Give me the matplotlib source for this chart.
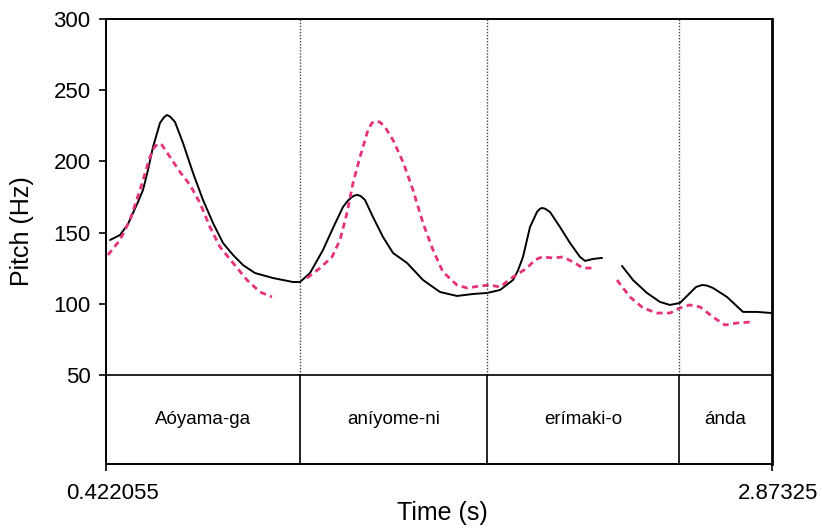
import matplotlib
matplotlib.use("Agg")
import matplotlib.pyplot as plt
import matplotlib.transforms as mtransforms

plt.rcParams['font.family'] = ['Liberation Sans', 'DejaVu Sans']

# Time axis range (s)
t_start = 0.422055
t_end = 2.87325

# Word boundaries (s) and labels
boundaries = [1.1361, 1.8243, 2.5309]
words = ["Aóyama-ga", "aníyome-ni", "erímaki-o", "ánda"]

# Black (solid) pitch contour, two voiced stretches
black1_t = [0.4368, 0.4736, 0.5030, 0.5214, 0.5398, 0.5582, 0.5766, 0.5950, 0.6208,
            0.6356, 0.6466, 0.6576, 0.6760, 0.7055,
            0.7423, 0.7791, 0.8159, 0.8527, 0.8895, 0.9263, 0.9704, 1.0367, 1.1103,
            1.1361, 1.1729, 1.2207, 1.2575, 1.2943, 1.3127, 1.3274, 1.3385, 1.3495,
            1.3606, 1.3753, 1.4048,
            1.4416, 1.4784, 1.5299, 1.5888, 1.6513, 1.7139, 1.7728, 1.8243, 1.8721,
            1.9200, 1.9384, 1.9568, 1.9826, 2.0083, 2.0193, 2.0267, 2.0378, 2.0562,
            2.0930, 2.1298, 2.1666,
            2.1850, 2.2144, 2.2476]
black1_hz = [144.8, 148.3, 156.0, 163.8, 171.5, 179.9, 194.0, 210.1, 227.0,
             231.0, 232.6, 231.5, 227.7, 212.9,
             191.9, 172.9, 156.7, 142.7, 134.3, 127.2, 121.6, 118.1, 115.3,
             115.3, 121.6, 137.8, 153.2, 168.0, 172.5, 175.0, 176.2, 176.4,
             175.5, 172.9, 160.9,
             146.9, 135.7, 128.7, 116.7, 108.3, 105.5, 106.9, 107.6, 109.7,
             116.7, 123.5, 132.9, 153.9, 164.5, 166.7, 167.3, 166.8, 164.5,
             153.9, 142.7, 132.9,
             130.1, 131.5, 132.2]
black2_t = [2.3212, 2.3616, 2.4132, 2.4610, 2.4978, 2.5346, 2.5714, 2.5935, 2.6156,
            2.6341, 2.6561, 2.7076, 2.7665, 2.8180, 2.8733]
black2_hz = [126.6, 116.7, 107.6, 101.3, 99.2, 100.6, 107.6, 111.8, 113.2,
             112.8, 111.1, 104.8, 94.3, 94.3, 93.5]

# Pink (dashed) pitch contour, three voiced stretches
pink1_t = [0.4294, 0.4736, 0.5104, 0.5472, 0.5840, 0.5987, 0.6098, 0.6208, 0.6282,
           0.6576, 0.6944,
           0.7312, 0.7680, 0.8048, 0.8416, 0.8895, 0.9410, 0.9888, 1.0330]
pink1_hz = [134.3, 144.8, 158.9, 179.9, 203.1, 209.5, 212.0, 212.5, 211.5,
            203.1, 192.6,
            183.4, 170.8, 153.9, 139.9, 128.7, 116.7, 108.3, 104.8]
pink2_t = [1.1618, 1.2097, 1.2539, 1.2833, 1.3091, 1.3311, 1.3569, 1.3864, 1.4011,
           1.4158, 1.4305,
           1.4489, 1.4784, 1.5152, 1.5520, 1.5888, 1.6255, 1.6624, 1.7139, 1.7507,
           1.7985, 1.8353, 1.8721, 1.9200, 1.9715, 2.0009, 2.0267, 2.0672, 2.1040,
           2.1408, 2.1776, 2.2218]
pink2_hz = [118.1, 125.1, 132.9, 144.8, 163.8, 184.8, 203.1, 222.1, 227.0,
            228.4, 227.5,
            224.2, 215.0, 199.6, 179.9, 156.7, 137.8, 122.3, 113.2, 111.1,
            112.5, 113.2, 111.8, 118.8, 125.1, 130.8, 132.9, 132.2, 132.9,
            129.4, 125.1, 125.1]
pink3_t = [2.3027, 2.3506, 2.3984, 2.4499, 2.4978, 2.5346, 2.5714, 2.6082, 2.6561,
           2.7002, 2.7444, 2.7923]
pink3_hz = [116.7, 104.8, 97.1, 93.5, 93.5, 97.1, 99.2, 97.8, 90.7,
            85.1, 86.5, 87.2]

y_ticks = [50, 100, 150, 200, 250, 300]
tier_bottom = -12.5
tier_top = 50

fig = plt.figure(figsize=(8.22, 5.28), dpi=100)
ax = fig.add_axes([106 / 822, 64 / 528, 666 / 822, 445 / 528])

ax.set_xlim(t_start, t_end)
ax.set_ylim(tier_bottom, 300)

pink = '#E5327A'
ax.plot(black1_t, black1_hz, color='black', lw=1.4, solid_capstyle='round',
        solid_joinstyle='round')
ax.plot(black2_t, black2_hz, color='black', lw=1.4, solid_capstyle='round',
        solid_joinstyle='round')
for tt, hh in [(pink1_t, pink1_hz), (pink2_t, pink2_hz), (pink3_t, pink3_hz)]:
    ax.plot(tt, hh, color=pink, lw=2.0, linestyle=(0, (2.2, 1.6)))

# word boundaries: dotted in the pitch area, solid in the tier
for b in boundaries:
    ax.plot([b, b], [tier_top, 300], color='#444444', lw=1.0, linestyle=(0, (1, 1.2)))
    ax.plot([b, b], [tier_bottom, tier_top], color='black', lw=1.2)
ax.axhline(tier_top, color='black', lw=1.2)

edges = [t_start] + boundaries + [t_end]
for i, w in enumerate(words):
    ax.text((edges[i] + edges[i + 1]) / 2, (tier_top + tier_bottom) / 2, w,
            ha='center', va='center', fontsize=13.5)

ax.set_yticks(y_ticks)
ax.set_yticklabels([str(v) for v in y_ticks])
ax.set_xticks([t_start, t_end])
ax.set_xticklabels(["0.422055", "2.87325"])
ax.tick_params(axis='both', labelsize=16, length=5, width=1.2, direction='out', pad=6)
ax.tick_params(axis='x', pad=9)
offset = mtransforms.ScaledTranslation(6 / 100, 0, fig.dpi_scale_trans)
for lab in ax.get_xticklabels():
    lab.set_transform(lab.get_transform() + offset)
for s in ax.spines.values():
    s.set_linewidth(1.4)
ax.spines['right'].set_linewidth(2.0)

ax.set_ylabel("Pitch (Hz)", fontsize=18)
ax.set_xlabel("Time (s)", fontsize=18)
ax.yaxis.set_label_coords(-0.108, 0.524)
ax.xaxis.set_label_coords(0.505, -0.083)

fig.savefig("out.png", dpi=100)
